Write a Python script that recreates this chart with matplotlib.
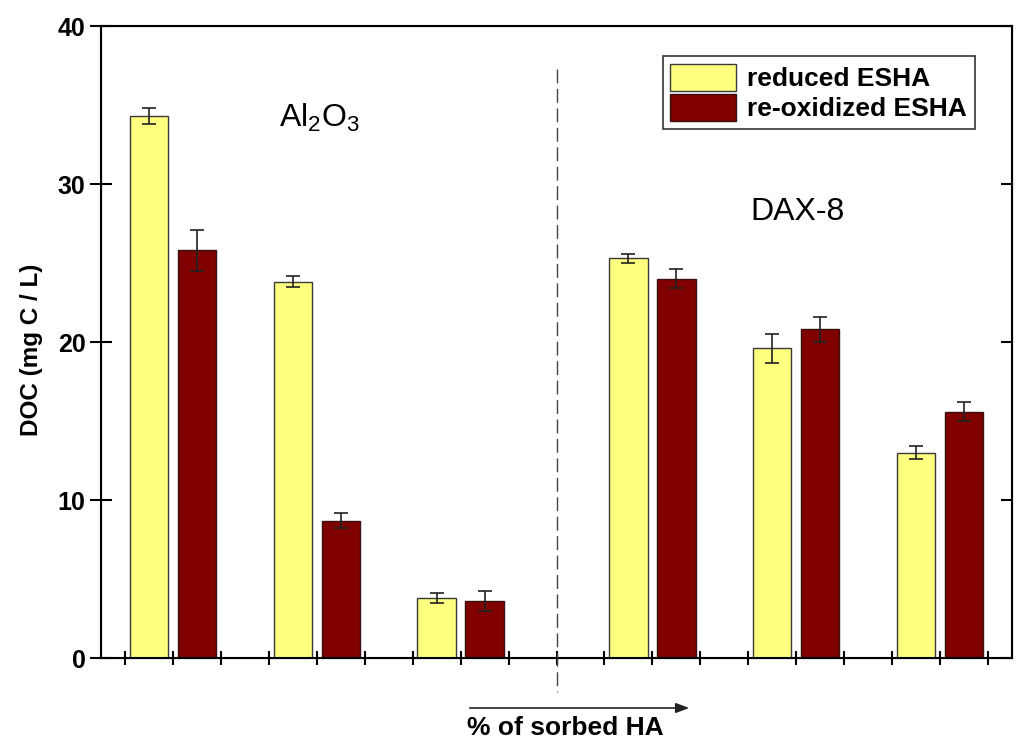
import matplotlib
matplotlib.use("Agg")
import matplotlib.pyplot as plt
import numpy as np

plt.rcParams['font.family'] = ['Liberation Sans', 'DejaVu Sans']
plt.rcParams['mathtext.default'] = 'regular'

# Data
groups = ["Al2O3-1", "Al2O3-2", "Al2O3-3", "DAX8-1", "DAX8-2", "DAX8-3"]
reduced = [34.3, 23.8, 3.8, 25.3, 19.6, 13.0]
reduced_err = [0.5, 0.35, 0.3, 0.3, 0.9, 0.4]
reoxidized = [25.8, 8.7, 3.6, 24.0, 20.8, 15.6]
reoxidized_err = [1.3, 0.5, 0.65, 0.6, 0.8, 0.6]
series_labels = ["reduced ESHA", "re-oxidized ESHA"]
yticks = [0, 10, 20, 30, 40]

fig = plt.figure(figsize=(10.16, 7.42), dpi=100)
ax = fig.add_axes([101/1016, 1 - 658/742, (1012-101)/1016, (658-26)/742])

idx = np.arange(len(groups))
x_red = 3 * idx + 0.5 + (idx >= 3)
x_ox = x_red + 1
w = 0.8

ekw = dict(ecolor='#222222', elinewidth=1.2, capsize=5, capthick=1.2)
ax.bar(x_red, reduced, width=w, color='#FFFF80', edgecolor='#3a3a3a', linewidth=1.0,
       yerr=reduced_err, error_kw=ekw, label=series_labels[0], zorder=2)
ax.bar(x_ox, reoxidized, width=w, color='#800000', edgecolor='#3a1010', linewidth=1.0,
       yerr=reoxidized_err, error_kw=ekw, label=series_labels[1], zorder=2)

ax.set_xlim(-0.5, 18.5)
ax.set_ylim(0, 40)
ax.set_xticks(np.arange(0, 19))
ax.set_xticklabels([])
ax.set_yticks(yticks)
ax.set_yticklabels([str(t) for t in yticks], fontweight='bold', fontsize=18)

for s in ax.spines.values():
    s.set_linewidth(1.5)

ax.tick_params(axis='x', direction='inout', length=9.5, width=1.5, top=False)
ax.tick_params(axis='y', direction='inout', length=16, width=1.5, pad=3)

ax2 = ax.twinx()
ax2.set_ylim(0, 40)
ax2.set_yticks(yticks)
ax2.tick_params(axis='y', direction='in', length=8, width=1.5, labelright=False)

ax.set_ylabel("DOC (mg C / L)", fontweight='bold', fontsize=17.5)
ax.yaxis.set_label_coords(-0.064, 0.487)

# Dashed separator
ax.plot([9, 9], [37.3, -2.15], linestyle=(0, (10, 4)), color='#444444', linewidth=1.0,
        clip_on=False, zorder=3)

ax.text(0.240, 0.855, "Al$_2$O$_3$", transform=ax.transAxes, fontsize=23,
        ha='center', va='center')
ax.text(0.764, 0.705, "DAX-8", transform=ax.transAxes, fontsize=23,
        ha='center', va='center')

leg = ax.legend(loc='upper right', bbox_to_anchor=(0.959, 0.953), frameon=True,
                fancybox=False, edgecolor='black',
                prop={'weight': 'bold', 'size': 19},
                handlelength=2.5, handleheight=1.2, labelspacing=0.1,
                borderpad=0.3, handletextpad=0.4, borderaxespad=0)
leg.get_frame().set_linewidth(1.2)

# Arrow and label below axis
fig.patches.append(matplotlib.patches.FancyArrowPatch(
    (467/1016, 1 - 708/742), (692/1016, 1 - 708/742), transform=fig.transFigure,
    arrowstyle='-|>,head_length=8,head_width=3', color='#222222', linewidth=1.2,
    mutation_scale=1))
fig.text(467/1016, 1 - 728/742, "% of sorbed HA", fontsize=19, fontweight='bold',
         ha='left', va='center')

fig.savefig("out.png", dpi=100)
